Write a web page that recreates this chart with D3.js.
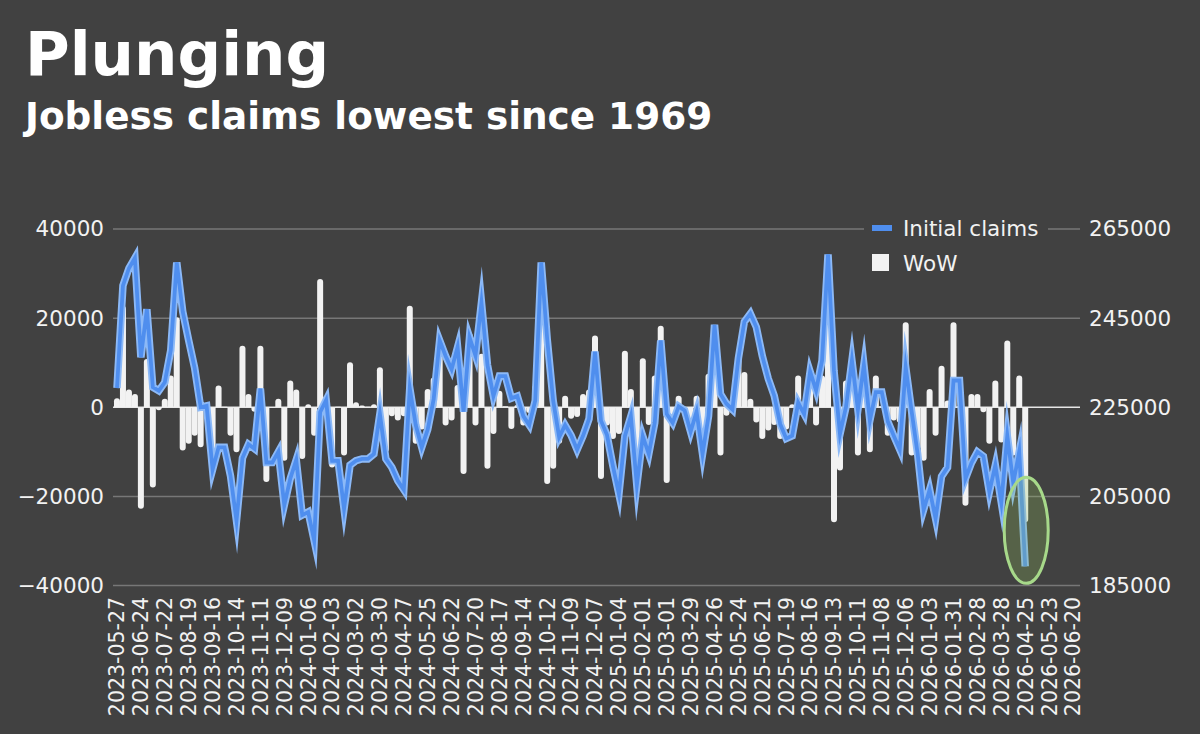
<!DOCTYPE html>
<html>
<head>
<meta charset="utf-8">
<script src="https://cdn.jsdelivr.net/npm/d3@7"></script>
<style>
  body { margin: 0; background: #414141; }
  svg { display: block; font-family: "DejaVu Sans", Verdana, sans-serif; }
</style>
</head>
<body>
<div id="container"></div>
<script>
let w = 1200;
let h = 734;

// weekly categories on the x axis
let firstWeek = "2023-05-27";
let weekCount = 161;

let tickLabels = [
  "2023-05-27","2023-06-24","2023-07-22","2023-08-19","2023-09-16","2023-10-14","2023-11-11","2023-12-09",
  "2024-01-06","2024-02-03","2024-03-02","2024-03-30","2024-04-27","2024-05-25","2024-06-22","2024-07-20",
  "2024-08-17","2024-09-14","2024-10-12","2024-11-09","2024-12-07",
  "2025-01-04","2025-02-01","2025-03-01","2025-03-29","2025-04-26","2025-05-24","2025-06-21","2025-07-19",
  "2025-08-16","2025-09-13","2025-10-11","2025-11-08","2025-12-06",
  "2026-01-03","2026-01-31","2026-02-28","2026-03-28","2026-04-25","2026-05-23","2026-06-20"
];

// Initial claims (right axis), week ending 2023-05-27 .. 2026-04-25
let claims = [
  229300,252300,256200,258500,236200,247000,229500,228700,230600,237800,
  257500,246500,240000,233800,225000,225300,211000,216000,216000,209600,
  199500,213600,216700,215700,229200,212600,212600,215000,203000,209000,
  213200,200800,201500,195100,223900,226600,213000,213000,202200,212000,
  213000,213400,213400,214500,223500,213400,211500,208500,206500,229300,
  221000,216000,220000,226800,240000,236500,233500,238500,224000,240700,
  236600,248500,234500,227500,232000,232000,227000,227500,223000,221000,
  226500,257500,240300,226500,218300,221000,218700,215500,218600,222400,
  237500,222000,218800,211800,205500,218500,223000,207500,218500,214500,
  221500,240000,223500,221500,225200,224300,219500,224000,214500,223000,
  243500,228000,225800,224500,236000,244200,246000,243000,236500,231400,
  227600,221200,218000,218600,226000,223500,233000,228800,235500,259300,
  233200,219000,225000,235500,224500,234500,222000,228400,228400,221800,
  218600,215500,234000,224000,214500,202000,206500,200000,209500,211500,
  231000,231000,209000,212500,215000,214000,206000,212000,203600,218600,
  208000,215000,189300
];

// Week-over-week change (left axis)
let wow = [
  2000,22800,4000,3000,-22800,10800,-18000,-700,1900,7100,
  20200,-9700,-8200,-6400,-9000,300,-14000,4900,100,-6400,
  -10100,13800,3000,-1000,13800,-16800,-100,1900,-12000,6000,
  4000,-11600,700,-6400,28800,2600,-13500,100,-10800,10100,
  1100,400,100,700,9000,-10100,-2000,-3000,-2000,22800,
  -8200,-5000,4100,6700,13200,-4100,-3000,5000,-15000,16700,
  -4100,12000,-13800,-6000,3700,200,-4900,500,-4100,-1300,
  5000,31000,-17200,-13800,-8200,2600,-2600,-2200,3000,4000,
  16100,-16100,-4100,-7100,-6000,12700,4100,-16000,11000,-4000,
  7100,18300,-17000,-2000,2600,-800,-4500,2600,-9700,7500,
  15000,-10800,-1900,-1300,11000,7900,1900,-3400,-7100,-5200,
  -4000,-7100,-5000,700,7100,-2000,8600,-4100,7100,24000,
  -25800,-14200,6000,8600,-10800,9000,-10100,7100,200,-6400,
  -3000,-3500,19100,-10800,-9500,-12000,4100,-6400,9300,1500,
  19100,200,-22100,3000,3000,-1100,-8200,6000,-7900,15000,
  -10800,7100,-25800
];

let leftTicks = [-40000, -20000, 0, 20000, 40000];
let rightTicks = [185000, 205000, 225000, 245000, 265000];

let bg = "#414141";

let fmt = d3.utcFormat("%Y-%m-%d");
let parse = d3.utcParse("%Y-%m-%d");
let weeks = d3.range(weekCount).map(function(i){
  return fmt(d3.utcDay.offset(parse(firstWeek), 7 * i));
});

let viz = d3.select("#container").append("svg")
  .attr("width", w)
  .attr("height", h)
  .style("background-color", bg);

// SCALES
let xScale = d3.scaleBand().domain(weeks).range([114, 1076]).padding(0);
let cx = function(i){ return xScale(weeks[i]) + xScale.bandwidth() / 2; };
let yLeft = d3.scaleLinear().domain([-40000, 40000]).range([585.5, 229]);
let yRight = d3.scaleLinear().domain([185000, 265000]).range([585.5, 229]);

// TITLES
viz.append("text").attr("x", 25).attr("y", 75)
  .attr("fill", "#fff").attr("font-weight", "bold").attr("font-size", 61)
  .text("Plunging");
viz.append("text").attr("x", 25).attr("y", 129)
  .attr("fill", "#fff").attr("font-weight", "bold").attr("font-size", 37.4)
  .text("Jobless claims lowest since 1969");

// GRID
viz.append("g").selectAll("line").data(leftTicks).enter()
  .append("line")
  .attr("x1", 113).attr("x2", 1080)
  .attr("y1", function(d){ return yLeft(d); })
  .attr("y2", function(d){ return yLeft(d); })
  .attr("stroke", function(d){ return d == 0 ? "#e6e6e6" : "#777"; })
  .attr("stroke-width", 1.5);

// AXES
let leftAxis = viz.append("g").attr("transform", "translate(104,0)")
  .call(d3.axisLeft(yLeft).tickValues(leftTicks).tickSize(0).tickPadding(0).tickFormat(d3.format("d")));
let rightAxis = viz.append("g").attr("transform", "translate(1089,0)")
  .call(d3.axisRight(yRight).tickValues(rightTicks).tickSize(0).tickPadding(0).tickFormat(d3.format("d")));
let xAxis = viz.append("g").attr("transform", "translate(0,591)")
  .call(d3.axisBottom(xScale).tickValues(tickLabels).tickSize(0));
xAxis.selectAll("text")
  .attr("transform", "rotate(-90)")
  .attr("x", -6).attr("y", 0).attr("dy", "0.36em")
  .style("text-anchor", "end")
  .attr("font-size", 20.5);
[leftAxis, rightAxis].forEach(function(g){ g.selectAll("text").attr("font-size", 21.5); });
[leftAxis, rightAxis, xAxis].forEach(function(g){
  g.select(".domain").remove();
  g.selectAll("text").attr("fill", "#f2f2f2").attr("font-family", "DejaVu Sans, Verdana, sans-serif");
});

// BARS (rounded at the far end)
let bw = 6;
function barPath(x, y0, y1){
  let r = Math.min(bw / 2, Math.abs(y1 - y0));
  let l = x - bw / 2, rt = x + bw / 2;
  if (y1 < y0) {
    return "M" + l + "," + y0 + "V" + (y1 + r) + "A" + r + "," + r + " 0 0 1 " + (l + r) + "," + y1 +
      "H" + (rt - r) + "A" + r + "," + r + " 0 0 1 " + rt + "," + (y1 + r) + "V" + y0 + "Z";
  }
  return "M" + l + "," + y0 + "V" + (y1 - r) + "A" + r + "," + r + " 0 0 0 " + (l + r) + "," + y1 +
    "H" + (rt - r) + "A" + r + "," + r + " 0 0 0 " + rt + "," + (y1 - r) + "V" + y0 + "Z";
}
viz.append("g").selectAll("path").data(wow).enter()
  .append("path")
  .attr("d", function(d, i){ return barPath(cx(i), yLeft(0), yLeft(d)); })
  .attr("fill", "#f2f2f2");

// LINE
let lineMaker = d3.line()
  .x(function(d, i){ return cx(i); })
  .y(function(d){ return yRight(d); });
viz.append("path").attr("d", lineMaker(claims))
  .attr("fill", "none").attr("stroke", "#8cb9f7").attr("stroke-width", 7.5)
  .attr("stroke-linejoin", "miter").attr("stroke-miterlimit", 10);
viz.append("path").attr("d", lineMaker(claims))
  .attr("fill", "none").attr("stroke", "#4f8eee").attr("stroke-width", 3.8)
  .attr("stroke-linejoin", "miter").attr("stroke-miterlimit", 10);

// HIGHLIGHT on the latest week
let last = claims.length - 1;
viz.append("ellipse")
  .attr("cx", cx(last) + 1).attr("cy", yRight(claims[last]) - 36)
  .attr("rx", 22).attr("ry", 53)
  .attr("fill", "rgba(150,200,95,0.25)")
  .attr("stroke", "#a7d98a").attr("stroke-width", 3);

// LEGEND
let legend = viz.append("g");
legend.append("rect").attr("x", 864).attr("y", 216).attr("width", 184).attr("height", 26).attr("fill", bg);
legend.append("line").attr("x1", 872).attr("x2", 892).attr("y1", 228).attr("y2", 228)
  .attr("stroke", "#4f8eee").attr("stroke-width", 6);
legend.append("text").attr("x", 903).attr("y", 228).attr("dy", "0.35em")
  .attr("fill", "#f2f2f2").attr("font-size", 21.5).text("Initial claims");
legend.append("rect").attr("x", 872).attr("y", 254).attr("width", 17).attr("height", 17).attr("fill", "#f2f2f2");
legend.append("text").attr("x", 903).attr("y", 263).attr("dy", "0.35em")
  .attr("fill", "#f2f2f2").attr("font-size", 21.5).text("WoW");
</script>
</body>
</html>
